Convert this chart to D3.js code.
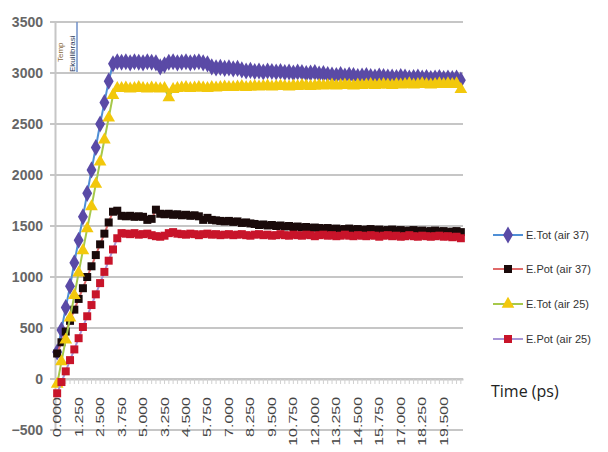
<!DOCTYPE html>
<html>
<head>
<meta charset="utf-8">
<script src="https://cdn.jsdelivr.net/npm/d3@7"></script>
<style>
  body { margin: 0; background: #fff; }
  svg { display: block; }
</style>
</head>
<body>
<div id="chart"></div>
<script>
// time (ps) categories: heating 0-5, then equilibration restarting at 2.25
var times = [0,0.25,0.5,0.75,1,1.25,1.5,1.75,2,2.25,2.5,2.75,3,3.25,3.5,3.75,4,4.25,4.5,4.75,5,
  2.25,2.5,2.75,3,3.25,3.5,3.75,4,4.25,4.5,4.75,5,5.25,5.5,5.75,6,6.25,6.5,6.75,7,7.25,7.5,7.75,
  8,8.25,8.5,8.75,9,9.25,9.5,9.75,10,10.25,10.5,10.75,11,11.25,11.5,11.75,12,12.25,12.5,12.75,
  13,13.25,13.5,13.75,14,14.25,14.5,14.75,15,15.25,15.5,15.75,16,16.25,16.5,16.75,17,17.25,17.5,
  17.75,18,18.25,18.5,18.75,19,19.25,19.5,19.75,20,20.25,20.5];

var yTicks = [-500, 0, 500, 1000, 1500, 2000, 2500, 3000, 3500];

var etot37 = [265,480,700,910,1140,1360,1590,1820,2050,2270,
  2500,2710,2920,3090,3110,3105,3110,3100,3110,3105,
  3100,3110,3105,3100,3060,3080,3105,3110,3100,3105,
  3110,3100,3105,3110,3100,3090,3060,3050,3055,3045,
  3050,3040,3045,3030,3020,3025,3015,3020,3010,3020,
  3015,3010,3015,3005,3010,3000,3010,3005,2995,3000,
  3005,2990,2995,2985,2980,2975,2985,2970,2980,2975,
  2965,2970,2975,2965,2960,2970,2965,2960,2960,2955,
  2965,2960,2950,2955,2960,2950,2955,2945,2950,2955,
  2945,2950,2945,2950,2930];

var epot37 = [250,360,465,570,680,785,890,1000,1105,1215,
  1320,1425,1535,1640,1650,1600,1595,1600,1590,1595,
  1590,1560,1570,1660,1620,1615,1620,1610,1615,1605,
  1610,1600,1605,1595,1560,1580,1560,1555,1550,1545,
  1550,1540,1545,1530,1535,1525,1520,1510,1515,1505,
  1510,1500,1505,1495,1500,1490,1495,1485,1490,1480,
  1485,1480,1475,1480,1470,1475,1465,1470,1475,1465,
  1470,1460,1465,1470,1460,1465,1455,1460,1465,1455,
  1460,1450,1455,1460,1450,1455,1445,1450,1455,1445,
  1450,1440,1445,1450,1440];

var etot25 = [-50,170,385,600,820,1040,1260,1475,1690,1910,
  2130,2345,2560,2780,2850,2850,2855,2845,2850,2860,
  2850,2845,2855,2850,2845,2850,2760,2840,2850,2855,
  2860,2850,2855,2860,2855,2850,2860,2855,2860,2865,
  2860,2860,2865,2870,2860,2865,2870,2865,2870,2875,
  2865,2870,2875,2870,2865,2875,2870,2880,2875,2870,
  2875,2880,2875,2880,2885,2875,2880,2885,2880,2875,
  2885,2880,2885,2890,2880,2885,2890,2885,2880,2890,
  2885,2890,2895,2885,2890,2895,2890,2885,2890,2895,
  2890,2895,2890,2895,2840];

var epot25 = [-140,-30,75,185,290,400,510,615,725,830,
  940,1050,1160,1270,1380,1430,1425,1420,1430,1415,
  1420,1425,1410,1400,1395,1405,1430,1440,1425,1420,
  1415,1425,1420,1410,1420,1425,1415,1420,1410,1415,
  1420,1410,1415,1420,1410,1405,1415,1420,1410,1415,
  1405,1410,1420,1410,1405,1415,1410,1405,1415,1410,
  1400,1410,1415,1405,1410,1400,1405,1415,1405,1400,
  1410,1405,1400,1410,1405,1395,1405,1410,1400,1405,
  1395,1400,1410,1400,1395,1405,1400,1395,1400,1405,
  1395,1400,1390,1395,1380];

var seriesNames = ["E.Tot (air 37)", "E.Pot (air 37)", "E.Tot (air 25)", "E.Pot (air 25)"];

var series = [
  { name: seriesNames[0], values: etot37, line: "#4f8fd6", mark: "#5a4aa6", shape: d3.symbolDiamond, size: 85 },
  { name: seriesNames[1], values: epot37, line: "#e06a6a", mark: "#1a0a0a", shape: d3.symbolSquare, size: 64 },
  { name: seriesNames[2], values: etot25, line: "#a6c84a", mark: "#f2c80c", shape: d3.symbolTriangle, size: 70 },
  { name: seriesNames[3], values: epot25, line: "#a894d6", mark: "#c8142a", shape: d3.symbolSquare, size: 64 }
];

var svgWidth = 608;
var svgHeight = 452;
var plot = { left: 55, right: 463, top: 22, bottom: 430 };

var svg = d3.select("#chart")
  .append("svg")
  .attr("width", svgWidth)
  .attr("height", svgHeight);

var x = d3.scaleBand()
  .domain(d3.range(times.length))
  .range([plot.left, plot.right])
  .padding(0);

var y = d3.scaleLinear()
  .domain([-500, 3500])
  .range([plot.bottom, plot.top]);

var cx = i => x(i) + x.bandwidth() / 2;

// gridlines
svg.append("g")
  .selectAll("line")
  .data(yTicks)
  .enter()
  .append("line")
  .attr("x1", plot.left - 5)
  .attr("x2", plot.right)
  .attr("y1", d => y(d))
  .attr("y2", d => y(d))
  .attr("stroke", "#c6c6c6")
  .attr("stroke-width", 2);

// left axis
var leftAxis = d3.axisLeft(y).tickValues(yTicks).tickFormat(d3.format("d")).tickSize(0).tickPadding(12);
var yAxis = svg.append("g")
  .attr("transform", `translate(${plot.left}, 0)`)
  .call(leftAxis);
yAxis.select(".domain").attr("stroke", "#c6c6c6").attr("stroke-width", 2);
yAxis.selectAll("text")
  .attr("font-family", "Liberation Sans Narrow, Arial Narrow, sans-serif")
  .attr("font-size", "14px")
  .attr("font-weight", "bold")
  .attr("fill", "#666");

// category axis at y = 0
var bottomAxis = d3.axisBottom(x).tickFormat("").tickSize(5).tickSizeOuter(0);
var xAxis = svg.append("g")
  .attr("transform", `translate(0, ${y(0)})`)
  .call(bottomAxis);
xAxis.select(".domain").attr("stroke", "#c6c6c6").attr("stroke-width", 2);
xAxis.selectAll(".tick line").attr("stroke", "#d0d0d0");

// category labels, low position, rotated
svg.append("g")
  .selectAll("text")
  .data(d3.range(times.length).filter(i => i % 5 === 0))
  .enter()
  .append("text")
  .attr("transform", i => `translate(${cx(i) + 4}, 397) rotate(-90) scale(1.45, 1)`)
  .attr("text-anchor", "end")
  .attr("font-family", "Liberation Sans Narrow, Arial Narrow, sans-serif")
  .attr("font-size", "11px")
  .attr("fill", "#444")
  .text(i => times[i].toFixed(3));

// small phase note top-left
var note = svg.append("g");
note.append("line")
  .attr("x1", 77).attr("x2", 77)
  .attr("y1", 22).attr("y2", 72)
  .attr("stroke", "#6f8fc8").attr("stroke-width", 1.5);
note.append("text")
  .attr("transform", "translate(63, 62) rotate(-90)")
  .attr("font-family", "Liberation Sans Narrow, sans-serif")
  .attr("font-size", "8px")
  .attr("fill", "#8a6a40")
  .text("Temp");
note.append("text")
  .attr("transform", "translate(75, 72) rotate(-90)")
  .attr("font-family", "Liberation Sans Narrow, sans-serif")
  .attr("font-size", "8px")
  .attr("fill", "#2a3a5a")
  .text("Ekuilibrasi");

// series lines and markers
var line = d3.line()
  .x((d, i) => cx(i))
  .y(d => y(d));

series.forEach(function(s) {
  svg.append("path")
    .datum(s.values)
    .attr("fill", "none")
    .attr("stroke", s.line)
    .attr("stroke-width", 2)
    .attr("d", line);

  svg.append("g")
    .selectAll("path")
    .data(s.values)
    .enter()
    .append("path")
    .attr("transform", (d, i) => `translate(${cx(i)}, ${y(d)})`)
    .attr("d", d3.symbol().type(s.shape).size(s.size))
    .attr("fill", s.mark);
});

// legend
var legendY = [235, 269, 304, 339];
var legend = svg.append("g");
series.forEach(function(s, k) {
  var g = legend.append("g").attr("transform", `translate(493, ${legendY[k]})`);
  g.append("line")
    .attr("x1", 0).attr("x2", 30)
    .attr("stroke", s.line).attr("stroke-width", 2);
  g.append("path")
    .attr("transform", "translate(15, 0)")
    .attr("d", d3.symbol().type(s.shape).size(s.size))
    .attr("fill", s.mark);
  g.append("text")
    .attr("x", 33)
    .attr("y", 4)
    .attr("font-family", "Liberation Sans Narrow, Arial Narrow, sans-serif")
    .attr("font-size", "11px")
    .attr("fill", "#333")
    .text(s.name);
});

// axis title
svg.append("text")
  .attr("x", 491)
  .attr("y", 397)
  .attr("font-family", "Open Sans, sans-serif")
  .attr("font-size", "16px")
  .attr("fill", "#222")
  .text("Time (ps)");
</script>
</body>
</html>
